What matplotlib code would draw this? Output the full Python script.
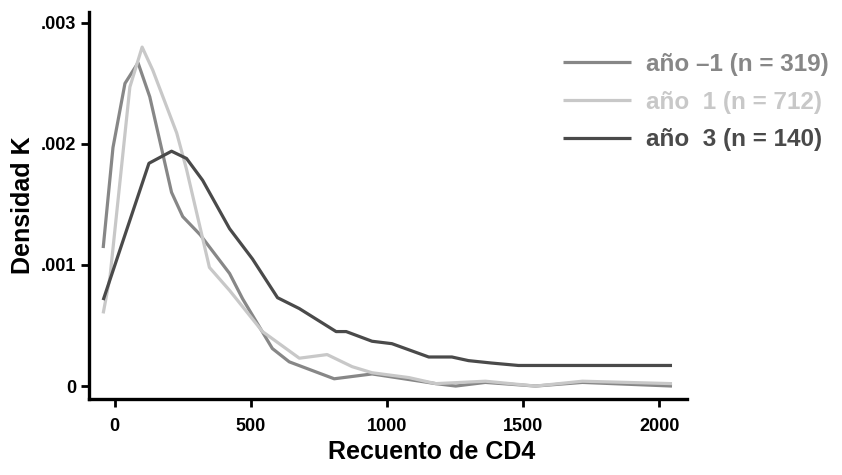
import matplotlib
matplotlib.use('Agg')
import matplotlib.pyplot as plt

plt.rcParams['font.family'] = ['Liberation Sans', 'DejaVu Sans']
plt.rcParams['font.weight'] = 'bold'

# Datos (densidad kernel del recuento de CD4)
x_menos1 = [-42, -6, 38, 86, 129, 209, 250, 314, 422, 470, 579, 641, 806, 945, 1179, 1252, 1361, 1545, 1717, 2046]
y_menos1 = [.00114, .00197, .0025, .00267, .00239, .0016, .0014, .00125, .00093, .00072, .00031, .0002,
            .00006, .0001, .00002, 0, .00003, 0, .00003, 0]

x_uno = [-42, -17, 56, 101, 140, 228, 264, 348, 422, 543, 678, 780, 872, 945, 1080, 1179, 1361, 1545, 1717, 2046]
y_uno = [.0006, .0009, .00247, .0028, .00261, .00209, .00179, .00098, .00079, .00045, .00023, .00026,
         .00016, .00011, .00007, .00002, .00004, 0, .00004, .00002]

x_tres = [-42, 126, 209, 264, 323, 422, 506, 598, 678, 813, 850, 945, 1018, 1153, 1238, 1299, 1384, 1482, 2046]
y_tres = [.00071, .00184, .00194, .00188, .0017, .0013, .00105, .00073, .00064, .00045, .00045, .00037,
          .00035, .00024, .00024, .00021, .00019, .00017, .00017]

etiquetas = ['año –1 (n = 319)', 'año  1 (n = 712)', 'año  3 (n = 140)']
colores = ['#878787', '#c8c8c8', '#4a4a4a']

xticks = [0, 500, 1000, 1500, 2000]
yticks = [0, .001, .002, .003]
ytick_labels = ['0', '.001', '.002', '.003']

fig = plt.figure(figsize=(8.42, 4.75), dpi=100)
ax = fig.add_axes([89 / 842, 1 - 399 / 475, (687 - 89) / 842, (399 - 12) / 475])

lineas = []
for xs, ys, c in zip([x_menos1, x_uno, x_tres], [y_menos1, y_uno, y_tres], colores):
    l, = ax.plot(xs, ys, color=c, linewidth=2.3, solid_capstyle='butt')
    lineas.append(l)

ax.set_xlim(-94, 2101)
ax.set_ylim(-0.000107, 0.00309)
ax.set_xticks(xticks)
ax.set_xticklabels([str(t) for t in xticks])
ax.set_yticks(yticks)
ax.set_yticklabels(ytick_labels)

for s in ['top', 'right']:
    ax.spines[s].set_visible(False)
for s in ['left', 'bottom']:
    ax.spines[s].set_linewidth(2.4)

ax.tick_params(axis='both', length=6, width=2, labelsize=13, direction='out')
ax.tick_params(axis='x', pad=8)
ax.tick_params(axis='y', pad=3)

fig.text(432 / 842, 1 - 452 / 475, 'Recuento de CD4', ha='center', va='center', fontsize=18, fontweight='bold')
fig.text(23 / 842, 1 - 205 / 475, 'Densidad K', ha='center', va='center', rotation=90, fontsize=18,
         fontweight='bold')

leg = ax.legend(lineas, etiquetas, loc='upper left', bbox_to_anchor=(563 / 842, 1 - 53 / 475),
                bbox_transform=fig.transFigure, frameon=False, fontsize=17.5, handlelength=2.8,
                handletextpad=0.6, labelspacing=0.6, borderpad=0, borderaxespad=0)
for txt, c in zip(leg.get_texts(), colores):
    txt.set_color(c)
    txt.set_fontweight('bold')

fig.savefig('out.png', dpi=100)
